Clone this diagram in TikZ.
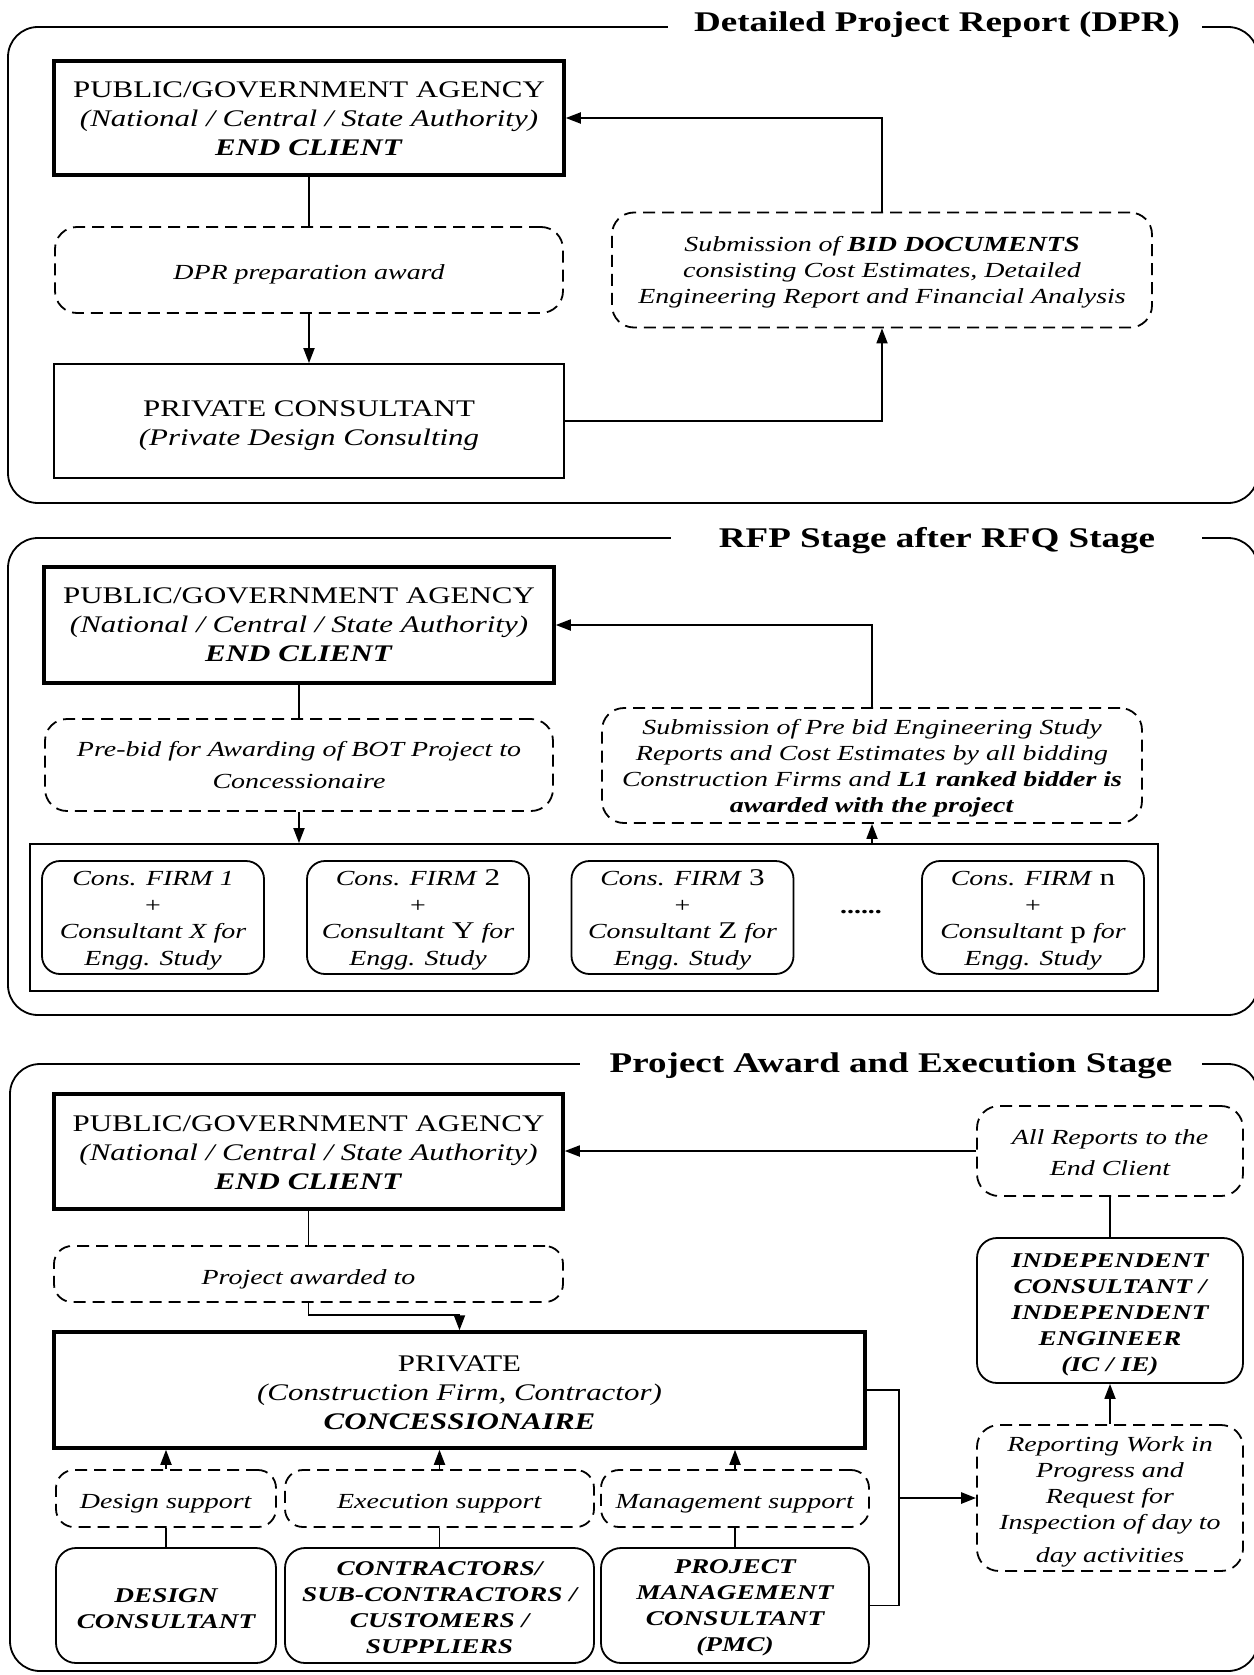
\documentclass[tikz,border=0pt]{standalone}
\usepackage{fontspec}
\setmainfont{Liberation Serif}[FakeStretch=1.3]
\usetikzlibrary{arrows.meta}
\newcommand{\fupr}[1]{{\upshape\fontsize{24}{26}\selectfont #1}}
\newcommand{\tstr}[1]{\rule{0pt}{#1}}
\tikzset{
  fbig/.style={font=\fontsize{23.8}{29}\selectfont},
  fsml/.style={font=\fontsize{21.5}{26}\selectfont},
  topstrut/.style={execute at begin node={\rule{0pt}{#1}}},
  thickbox/.style={draw, line width=3.5pt, inner sep=0pt, align=center, fbig},
  thinbox/.style={draw, line width=1.8pt, inner sep=0pt, align=center, fbig},
  dbox/.style={draw, dash pattern=on 12pt off 7pt, line width=1.8pt, rounded corners=22pt, inner sep=0pt, align=center, fsml},
  rbox/.style={draw, line width=1.8pt, rounded corners=20pt, inner sep=0pt, align=center, fsml},
  stageframe/.style={draw, line width=1.8pt, rounded corners=30pt},
  ttl/.style={inner sep=0pt, font=\fontsize{28.5}{32}\selectfont\bfseries},
  con/.style={line width=1.8pt},
  arr/.style={line width=1.8pt, -{Triangle[length=15pt,width=11pt]}},
}
\begin{document}
\begin{tikzpicture}[x=1pt,y=-1pt]
\useasboundingbox (0,0) rectangle (1253,1675);

% ---------------- Section 1 ----------------
\draw[stageframe] (8,27) rectangle (1258,503);
\fill[white] (668,12) rectangle (1202,42);
\node[ttl] (t1) at (937,25) {Detailed Project Report (DPR)};

\node[thickbox, minimum width=510pt, minimum height=114pt] (a1) at (309,118)
  {\tstr{17.5pt}PUBLIC/GOVERNMENT AGENCY\\\textit{(National / Central / State Authority)}\\\textbf{\textit{END CLIENT}}};
\node[dbox, topstrut=23pt, minimum width=508pt, minimum height=86pt] (d1) at (309,270)
  {\textit{DPR preparation award}};
\node[thinbox, minimum width=510pt, minimum height=114pt] (b1) at (309,421)
  {\tstr{24.5pt}PRIVATE CONSULTANT\\\textit{(Private Design Consulting}};
\node[dbox, minimum width=540pt, minimum height=115pt] (d2) at (882,270)
  {\tstr{20pt}\textit{Submission of \textbf{BID DOCUMENTS}}\\\textit{consisting Cost Estimates, Detailed}\\\textit{Engineering Report and Financial Analysis}};

\draw[con] (a1.south) -- (d1.north);
\draw[arr] (d1.south) -- (b1.north);
\draw[arr] (b1.east) -| (d2.south);
\draw[arr] (d2.north) |- (a1.east);

% ---------------- Section 2 ----------------
\draw[stageframe] (8,538) rectangle (1258,1015);
\fill[white] (671,524) rectangle (1202,554);
\node[ttl] (t2) at (937,541) {RFP Stage after RFQ Stage};

\node[thickbox, minimum width=510pt, minimum height=116pt] (a2) at (299,625)
  {PUBLIC/GOVERNMENT AGENCY\\\textit{(National / Central / State Authority)}\\\textbf{\textit{END CLIENT}}};
\node[dbox, minimum width=508pt, minimum height=92pt, font=\fontsize{21.5}{32}\selectfont] (d3) at (299,765)
  {\textit{Pre-bid for Awarding of BOT Project to}\\\textit{Concessionaire}};
\node[dbox, minimum width=540pt, minimum height=115pt] (d4) at (872,765.5)
  {\tstr{20pt}\textit{Submission of Pre bid Engineering Study}\\\textit{Reports and Cost Estimates by all bidding}\\\textit{Construction Firms and \textbf{L1 ranked bidder is}}\\\textbf{\textit{awarded with the project}}};
\node[thinbox, minimum width=1128pt, minimum height=147pt] (c) at (594,917.5) {};

\node[rbox, rounded corners=18pt, minimum width=222pt, minimum height=113pt, font=\fontsize{21.5}{26.5}\selectfont] (f1) at (153,917.5)
  {\tstr{20.5pt}\textit{Cons. FIRM 1}\\+\\\textit{Consultant X for}\\\textit{Engg. Study}};
\node[rbox, rounded corners=18pt, minimum width=222pt, minimum height=113pt, font=\fontsize{21.5}{26.5}\selectfont] (f2) at (418,917.5)
  {\tstr{20.5pt}\textit{Cons. FIRM }\fupr{2}\\+\\\textit{Consultant }\fupr{Y}\textit{ for}\\\textit{Engg. Study}};
\node[rbox, rounded corners=18pt, minimum width=222pt, minimum height=113pt, font=\fontsize{21.5}{26.5}\selectfont] (f3) at (682.5,917.5)
  {\tstr{20.5pt}\textit{Cons. FIRM }\fupr{3}\\+\\\textit{Consultant }\fupr{Z}\textit{ for}\\\textit{Engg. Study}};
\node[font=\fontsize{21.5}{26}\selectfont\bfseries] (dots) at (861,912) {......};
\node[rbox, rounded corners=18pt, minimum width=222pt, minimum height=113pt, font=\fontsize{21.5}{26.5}\selectfont] (fn) at (1033,917.5)
  {\tstr{20.5pt}\textit{Cons. FIRM }\fupr{n}\\+\\\textit{Consultant }\fupr{p}\textit{ for}\\\textit{Engg. Study}};

\draw[con] (a2.south) -- (d3.north);
\draw[arr] (d3.south) -- (d3.south |- c.north);
\draw[arr] (d4.south |- c.north) -- (d4.south);
\draw[arr] (d4.north) |- (a2.east);

% ---------------- Section 3 ----------------
\draw[stageframe] (10,1064) rectangle (1258,1671);
\fill[white] (580,1050) rectangle (1202,1082);
\node[ttl] (t3) at (891,1066) {Project Award and Execution Stage};

\node[thickbox, minimum width=509pt, minimum height=115pt] (a3) at (308.5,1151.5)
  {\tstr{19pt}PUBLIC/GOVERNMENT AGENCY\\\textit{(National / Central / State Authority)}\\\textbf{\textit{END CLIENT}}};
\node[dbox, topstrut=25pt, rounded corners=18pt, minimum width=509pt, minimum height=56pt] (d5) at (308.5,1274)
  {\textit{Project awarded to}};
\node[thickbox, minimum width=811pt, minimum height=116pt] (b3) at (459.5,1390)
  {\tstr{21pt}PRIVATE\\\textit{(Construction Firm, Contractor)}\\\textbf{\textit{CONCESSIONAIRE}}};

\node[dbox, topstrut=24pt, rounded corners=18pt, minimum width=220pt, minimum height=57pt] (ds) at (166,1498.5) {\textit{Design support}};
\node[dbox, topstrut=24pt, rounded corners=18pt, minimum width=309pt, minimum height=57pt] (es) at (439.5,1498.5) {\textit{Execution support}};
\node[dbox, topstrut=24pt, rounded corners=18pt, minimum width=268pt, minimum height=57pt] (ms) at (735,1498.5) {\textit{Management support}};

\node[rbox, minimum width=220pt, minimum height=115pt, font=\fontsize{21}{25.5}\selectfont\bfseries\itshape] (dc) at (166,1605.5)
  {\tstr{20.5pt}DESIGN\\CONSULTANT};
\node[rbox, minimum width=309pt, minimum height=115pt, font=\fontsize{21}{26}\selectfont\bfseries\itshape] (ct) at (439.5,1605.5)
  {\tstr{18pt}CONTRACTORS/\\SUB-CONTRACTORS /\\CUSTOMERS /\\SUPPLIERS};
\node[rbox, minimum width=268pt, minimum height=115pt, font=\fontsize{21}{26}\selectfont\bfseries\itshape] (pmc) at (735,1605.5)
  {\tstr{18pt}PROJECT\\MANAGEMENT\\CONSULTANT\\(PMC)};

\node[dbox, minimum width=266pt, minimum height=90pt, font=\fontsize{21.5}{31}\selectfont\itshape] (d6) at (1110,1151)
  {\tstr{18pt}All Reports to the\\End Client};
\node[rbox, minimum width=266pt, minimum height=145pt, font=\fontsize{21}{26}\selectfont\bfseries\itshape] (ic) at (1110,1310.5)
  {\tstr{22.5pt}INDEPENDENT\\CONSULTANT /\\INDEPENDENT\\ENGINEER\\(IC / IE)};
\node[dbox, minimum width=266pt, minimum height=146pt, font=\fontsize{21.5}{26}\selectfont\itshape] (d7) at (1110,1498)
  {\tstr{22pt}Reporting Work in\\Progress and\\Request for\\Inspection of day to\\[7pt]day activities};

\draw[con] (a3.south) -- (d5.north);
\draw[arr] (d5.south) -- ++(0,12) -| (b3.north);
\foreach \s/\t in {ds/dc, es/ct, ms/pmc}{
  \draw[arr] (\s.north) -- (\s.north |- b3.south);
  \draw[con] (\s.south) -- (\t.north);
}
\draw[arr] (d6.west) -- (d6.west -| a3.east);
\draw[con] (d6.south) -- (ic.north);
\draw[arr] (d7.north) -- (ic.south);
\coordinate (j) at (899,1498);
\draw[con] (b3.east) -| (j) |- (pmc.east);
\draw[arr, line width=2.6pt] (j) -- (d7.west);
\end{tikzpicture}
\end{document}
